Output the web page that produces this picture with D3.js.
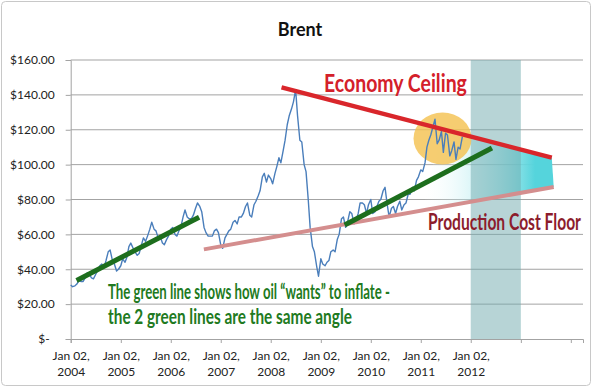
<!DOCTYPE html>
<html>
<head>
<meta charset="utf-8">
<script src="https://cdn.jsdelivr.net/npm/d3@7"></script>
<style>
  body { margin: 0; background: #fff; }
  text { font-family: Lato, "Open Sans", sans-serif; }
</style>
</head>
<body>
<svg id="chart"></svg>
<script>
// Brent: two readings per month (2nd and 16th), Jan 2004 - Nov 2011
const brent2004 = [31, 30, 30.5, 31.5, 33.5, 33, 33, 35, 38, 37, 35, 34.5, 37, 39, 42, 43, 41, 45, 50, 51, 45, 43, 39, 40];
const brent2005 = [42, 46, 44, 47, 53, 55, 52, 50, 48, 49, 54, 58, 56, 59, 63, 67, 63, 62, 58, 59, 55, 54, 57, 59];
const brent2006 = [63, 64, 60, 59, 62, 64, 70, 74, 70, 69, 69, 71, 75, 78, 76, 73, 64, 61, 59, 59, 59, 62, 63, 61];
const brent2007 = [54, 52, 58, 60, 62, 63, 67, 68, 66, 70, 70, 72, 76, 78, 71, 70, 77, 79, 82, 85, 93, 95, 90, 94];
const brent2008 = [92, 89, 95, 99, 104, 101, 108, 114, 123, 128, 132, 136, 143, 128, 114, 113, 100, 96, 80, 64, 53, 50, 42, 36];
const brent2009 = [46, 43, 42, 44, 45, 50, 51, 50, 57, 60, 69, 70, 64, 67, 73, 72, 66, 68, 72, 78, 78, 77, 72, 77];
const brent2010 = [80, 72, 73, 76, 79, 80, 85, 87, 77, 70, 75, 76, 72, 76, 79, 74, 77, 78, 83, 83, 87, 85, 91, 93];
const brent2011 = [97, 96, 101, 110, 114, 117, 122, 126, 112, 114, 119, 107, 118, 117, 105, 108, 113, 103, 110, 109, 116];

const yTicks = [0, 20, 40, 60, 80, 100, 120, 140, 160];
const tickYears = [2004, 2005, 2006, 2007, 2008, 2009, 2010, 2011, 2012, 2013, 2014];
const labelYears = ["2004", "2005", "2006", "2007", "2008", "2009", "2010", "2011", "2012"];

// hand-drawn annotation lines (date, price)
const ceilingLine = [["2008-03-21", 144.3], ["2013-08-16", 104]];
const floorLine = [["2006-09-01", 51.4], ["2013-08-30", 87.2]];
const greenLine1 = [["2004-02-14", 33.6], ["2006-07-28", 69.8]];
const greenLine2 = [["2009-06-25", 65.4], ["2012-06-05", 109.5]];
const shadeBand = ["2012-01-02", "2013-01-02"];
const bubble = ["2011-06-10", 115];

const width = 600, height = 388;
const parse = d3.timeParse("%Y-%m-%d");

const values = [].concat(brent2004, brent2005, brent2006, brent2007, brent2008, brent2009, brent2010, brent2011);
const series = values.map((v, i) => ({ date: new Date(2004, Math.floor(i / 2), i % 2 ? 16 : 2), v: v }));

const x = d3.scaleTime()
  .domain([new Date(2004, 0, 2), new Date(2014, 3, 1)])
  .range([70.7, 583]);
const y = d3.scaleLinear().domain([0, 160]).range([339, 60]);

const svg = d3.select("#chart").attr("width", width).attr("height", height);

// outer frame
svg.append("rect")
  .attr("x", 1.5).attr("y", 1.5).attr("width", 589).attr("height", 384)
  .attr("rx", 4).attr("fill", "#fff").attr("stroke", "#c8c8c8");

svg.append("text")
  .attr("x", 300).attr("y", 36)
  .attr("text-anchor", "middle")
  .style("font-size", "18px").style("font-weight", "bold").style("fill", "#111")
  .text("Brent");

// grid
svg.append("g").selectAll("line")
  .data(yTicks.filter(d => d > 0))
  .join("line")
    .attr("x1", 70.7).attr("x2", 583)
    .attr("y1", d => y(d)).attr("y2", d => y(d))
    .attr("stroke", "#a3a3a3").attr("stroke-width", 1);

const pt = p => [x(parse(p[0])), y(p[1])];
function along(line, date) {
  const a = pt(line[0]), b = pt(line[1]);
  const px = x(parse(date));
  return [px, a[1] + (px - a[0]) * (b[1] - a[1]) / (b[0] - a[0])];
}

// fading cyan wedge between ceiling and floor
const defs = svg.append("defs");
const grad = defs.append("linearGradient")
  .attr("id", "wedge").attr("gradientUnits", "userSpaceOnUse")
  .attr("x1", 420).attr("x2", 535).attr("y1", 0).attr("y2", 0);
grad.append("stop").attr("offset", 0).attr("stop-color", "#ffffff").attr("stop-opacity", 0);
grad.append("stop").attr("offset", 1).attr("stop-color", "#55d4dc").attr("stop-opacity", 1);

const wedge = [
  along(ceilingLine, "2011-06-01"),
  pt(ceilingLine[1]),
  pt(floorLine[1]),
  along(floorLine, "2011-01-15")
];
svg.append("path")
  .attr("d", d3.line()(wedge) + "Z")
  .attr("fill", "url(#wedge)");

// grey-teal band for 2012
svg.append("rect")
  .attr("x", x(parse(shadeBand[0])))
  .attr("width", x(parse(shadeBand[1])) - x(parse(shadeBand[0])))
  .attr("y", y(160)).attr("height", y(0) - y(160))
  .attr("fill", "#6fa9ad").attr("opacity", 0.5);

// axes
const yAxis = svg.append("g")
  .attr("transform", "translate(70.7,0)")
  .call(d3.axisLeft(y).tickValues(yTicks).tickSize(5).tickPadding(11)
    .tickFormat(d => d === 0 ? "$-" : "$" + d.toFixed(2)));
yAxis.selectAll("text")
  .style("font-size", "12px").style("fill", "#222")
  .attr("dx", d => d === 0 ? -5 : 0);

const xAxis = svg.append("g")
  .attr("transform", "translate(0,339)")
  .call(d3.axisBottom(x).tickValues(tickYears.map(yr => new Date(yr, 0, 2)))
    .tickSize(4).tickFormat(""));
xAxis.selectAll(".tick").each(function(d, i) {
  if (i >= labelYears.length) return;
  const t = d3.select(this).append("text")
    .attr("text-anchor", "middle")
    .style("font-size", "12px").style("fill", "#222");
  t.append("tspan").attr("x", 0).attr("y", 21).text("Jan 02,");
  t.append("tspan").attr("x", 0).attr("y", 37).text(labelYears[i]);
});
svg.selectAll(".domain, .tick line").attr("stroke", "#a3a3a3");

// yellow bubble over the 2011 top
svg.append("ellipse")
  .attr("cx", x(parse(bubble[0]))).attr("cy", y(bubble[1]))
  .attr("rx", 29).attr("ry", 26)
  .attr("fill", "#f4c04e").attr("opacity", 0.8);

// price line
svg.append("path")
  .datum(series)
  .attr("fill", "none")
  .attr("stroke", "#4a7ebb")
  .attr("stroke-width", 1.4)
  .attr("stroke-linejoin", "round")
  .attr("d", d3.line().x(d => x(d.date)).y(d => y(d.v)));

const seg = (line, color, w) => svg.append("line")
  .attr("x1", pt(line[0])[0]).attr("y1", pt(line[0])[1])
  .attr("x2", pt(line[1])[0]).attr("y2", pt(line[1])[1])
  .attr("stroke", color).attr("stroke-width", w);

seg(floorLine, "#d48e8e", 4);
seg(greenLine1, "#1d6e1d", 5);
seg(greenLine2, "#1d6e1d", 5);
seg(ceilingLine, "#d9262b", 4.5);

// annotations, squeezed horizontally to the width they take in the picture
function note(txt, px, py, target, size, color) {
  const t = svg.append("text")
    .style("font-size", size + "px").style("font-weight", "bold").style("fill", color)
    .text(txt);
  const k = target / t.node().getComputedTextLength();
  t.attr("transform", `translate(${px},${py}) scale(${k},1)`);
}
note("Economy Ceiling", 324, 92, 143, 25, "#d4202a");
note("Production Cost Floor", 428, 230, 153, 23, "#8c1c2c");
note("The green line shows how oil \u201cwants\u201d to inflate -", 108, 299, 282, 20, "#217a21");
note("the 2 green lines are the same angle", 108, 324, 244, 20, "#217a21");
</script>
</body>
</html>
